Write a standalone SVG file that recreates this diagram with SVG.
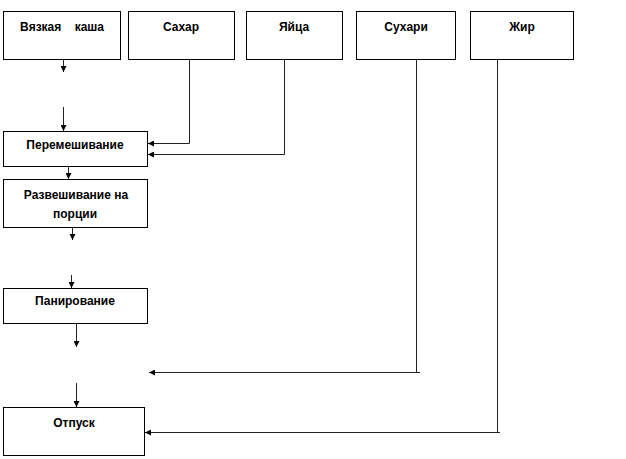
<svg xmlns="http://www.w3.org/2000/svg" width="626" height="459" viewBox="0 0 626 459">
<style>
.box{fill:#fff;stroke:#000;stroke-width:1}
.t{font-family:"Liberation Sans",Arial,sans-serif;font-weight:bold;font-size:12px;text-anchor:middle;fill:#000}
.c{fill:none;stroke:#222;stroke-width:1}
</style>
<defs>
<marker id="ah" markerWidth="6" markerHeight="6" refX="6" refY="3" orient="auto" markerUnits="userSpaceOnUse">
<path d="M0,0 L6,3 L0,6 Z" fill="#000"/>
</marker>
</defs>
<rect width="626" height="459" fill="#fff"/>
<g id="n-kasha"><rect class="box" x="3.5" y="11.5" width="117" height="48"/><text class="t" x="62" y="31" xml:space="preserve">Вязкая    каша</text></g>
<g id="n-sahar"><rect class="box" x="128.5" y="11.5" width="106" height="48"/><text class="t" x="181" y="31">Сахар</text></g>
<g id="n-yaica"><rect class="box" x="246.5" y="11.5" width="96" height="48"/><text class="t" x="294" y="31">Яйца</text></g>
<g id="n-suhari"><rect class="box" x="356.5" y="11.5" width="99" height="48"/><text class="t" x="406" y="31">Сухари</text></g>
<g id="n-zhir"><rect class="box" x="470.5" y="11.5" width="103" height="48"/><text class="t" x="522" y="31">Жир</text></g>
<g id="n-perem"><rect class="box" x="3.5" y="131.5" width="144" height="35"/><text class="t" x="75" y="149">Перемешивание</text></g>
<g id="n-razv"><rect class="box" x="3.5" y="179.5" width="144" height="48"/><text class="t" x="76" y="199">Развешивание на</text><text class="t" x="75" y="218">порции</text></g>
<g id="n-panir"><rect class="box" x="3.5" y="288.5" width="144" height="35"/><text class="t" x="75" y="305">Панирование</text></g>
<g id="n-otpusk"><rect class="box" x="3.5" y="407.5" width="141" height="48"/><text class="t" x="74" y="427">Отпуск</text></g>
<g id="connectors">
<line class="c" x1="63.5" y1="60" x2="63.5" y2="72" marker-end="url(#ah)"/>
<line class="c" x1="63.5" y1="107" x2="63.5" y2="131" marker-end="url(#ah)"/>
<polyline class="c" points="189.5,60 189.5,143.5 148,143.5" marker-end="url(#ah)"/>
<polyline class="c" points="284.5,60 284.5,154.5 148,154.5" marker-end="url(#ah)"/>
<line class="c" x1="68.5" y1="167" x2="68.5" y2="179" marker-end="url(#ah)"/>
<line class="c" x1="72.5" y1="228" x2="72.5" y2="240" marker-end="url(#ah)"/>
<line class="c" x1="71.5" y1="275" x2="71.5" y2="288" marker-end="url(#ah)"/>
<line class="c" x1="76.5" y1="324" x2="76.5" y2="347" marker-end="url(#ah)"/>
<line class="c" x1="76.5" y1="383" x2="76.5" y2="407" marker-end="url(#ah)"/>
<line class="c" x1="416.5" y1="60" x2="416.5" y2="372"/>
<line class="c" x1="420" y1="372.5" x2="149" y2="372.5" marker-end="url(#ah)"/>
<line class="c" x1="497.5" y1="60" x2="497.5" y2="432"/>
<line class="c" x1="500" y1="432.5" x2="145" y2="432.5" marker-end="url(#ah)"/>
</g>
</svg>
